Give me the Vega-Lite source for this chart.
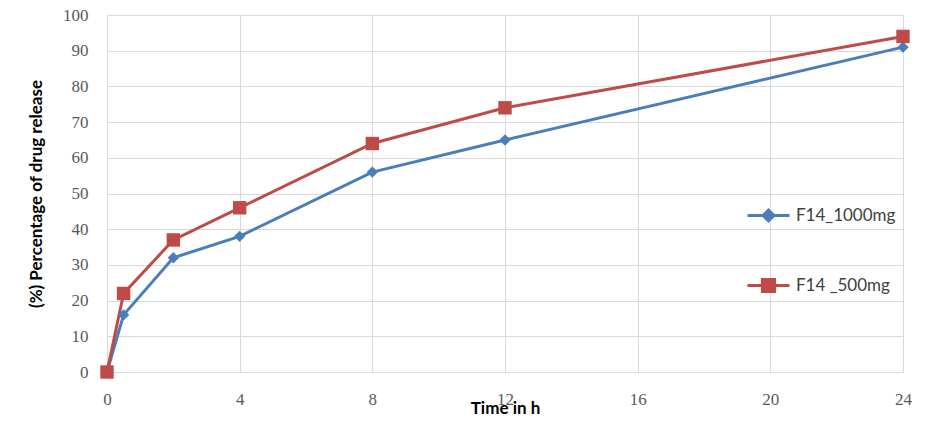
{
  "$schema": "https://vega.github.io/schema/vega-lite/v6.json",
  "width": 796,
  "height": 357,
  "autosize": {"type": "none"},
  "padding": {"left": 107, "top": 15, "right": 43, "bottom": 57},
  "background": "white",
  "config": {
    "view": {"stroke": null},
    "axis": {
      "gridColor": "#d9d9d9",
      "gridWidth": 1,
      "domain": false,
      "ticks": false,
      "labelFont": "Liberation Serif",
      "labelFontSize": 17,
      "labelColor": "#595959",
      "titleFont": "Lato",
      "titleFontSize": 17,
      "titleFontWeight": "bold",
      "titleColor": "#000000"
    }
  },
  "data": {
    "values": [
      {"time": 0, "release": 0, "series": "F14_1000mg"},
      {"time": 0.5, "release": 16, "series": "F14_1000mg"},
      {"time": 2, "release": 32, "series": "F14_1000mg"},
      {"time": 4, "release": 38, "series": "F14_1000mg"},
      {"time": 8, "release": 56, "series": "F14_1000mg"},
      {"time": 12, "release": 65, "series": "F14_1000mg"},
      {"time": 24, "release": 91, "series": "F14_1000mg"},
      {"time": 0, "release": 0, "series": "F14 _500mg"},
      {"time": 0.5, "release": 22, "series": "F14 _500mg"},
      {"time": 2, "release": 37, "series": "F14 _500mg"},
      {"time": 4, "release": 46, "series": "F14 _500mg"},
      {"time": 8, "release": 64, "series": "F14 _500mg"},
      {"time": 12, "release": 74, "series": "F14 _500mg"},
      {"time": 24, "release": 94, "series": "F14 _500mg"}
    ]
  },
  "encoding": {
    "x": {
      "field": "time",
      "type": "quantitative",
      "scale": {"domain": [0, 24], "nice": false, "zero": false},
      "axis": {"values": [0, 4, 8, 12, 16, 20, 24], "title": "Time in h", "labelPadding": 19, "titlePadding": -7, "labelFlush": false}
    },
    "y": {
      "field": "release",
      "type": "quantitative",
      "scale": {"domain": [0, 100], "nice": false},
      "axis": {"values": [0, 10, 20, 30, 40, 50, 60, 70, 80, 90, 100], "title": "(%) Percentage of drug release", "labelPadding": 19, "titlePadding": 17}
    }
  },
  "layer": [
    {
      "mark": {"type": "line", "strokeWidth": 3},
      "encoding": {
        "color": {
          "field": "series",
          "type": "nominal",
          "scale": {"domain": ["F14_1000mg", "F14 _500mg"], "range": ["#4a7ebb", "#be4b48"]},
          "legend": {
            "title": null,
            "orient": "none",
            "legendX": 639,
            "legendY": 178,
            "padding": 0,
            "symbolSize": 1764,
            "symbolStrokeWidth": 3,
            "labelFont": "Lato",
            "labelFontSize": 17,
            "labelColor": "#404040",
            "labelOffset": 5,
            "rowPadding": 36,
            "encode": {
              "symbols": {
                "update": {
                  "shape": {"signal": "datum.value == 'F14_1000mg' ? 'M-1,0H1M-0.26,0L0,-0.26L0.26,0L0,0.26Z' : 'M-1,0H1M-0.29,-0.29H0.29V0.29H-0.29Z'"},
                  "size": {"value": 1764},
                  "fill": {"signal": "datum.value == 'F14_1000mg' ? '#4a7ebb' : '#be4b48'"},
                  "fillOpacity": {"value": 1},
                  "stroke": {"signal": "datum.value == 'F14_1000mg' ? '#4a7ebb' : '#be4b48'"},
                  "strokeOpacity": {"value": 1},
                  "strokeWidth": {"value": 3},
                  "opacity": {"value": 1}
                }
              }
            }
          }
        }
      }
    },
    {
      "transform": [{"filter": "datum.series == 'F14_1000mg'"}],
      "mark": {"type": "point", "filled": true, "opacity": 1, "shape": "diamond", "size": 130, "color": "#4a7ebb"},
      "encoding": {}
    },
    {
      "transform": [{"filter": "datum.series == 'F14 _500mg'"}],
      "mark": {"type": "point", "filled": true, "opacity": 1, "shape": "square", "size": 180, "color": "#be4b48"},
      "encoding": {}
    }
  ]
}
